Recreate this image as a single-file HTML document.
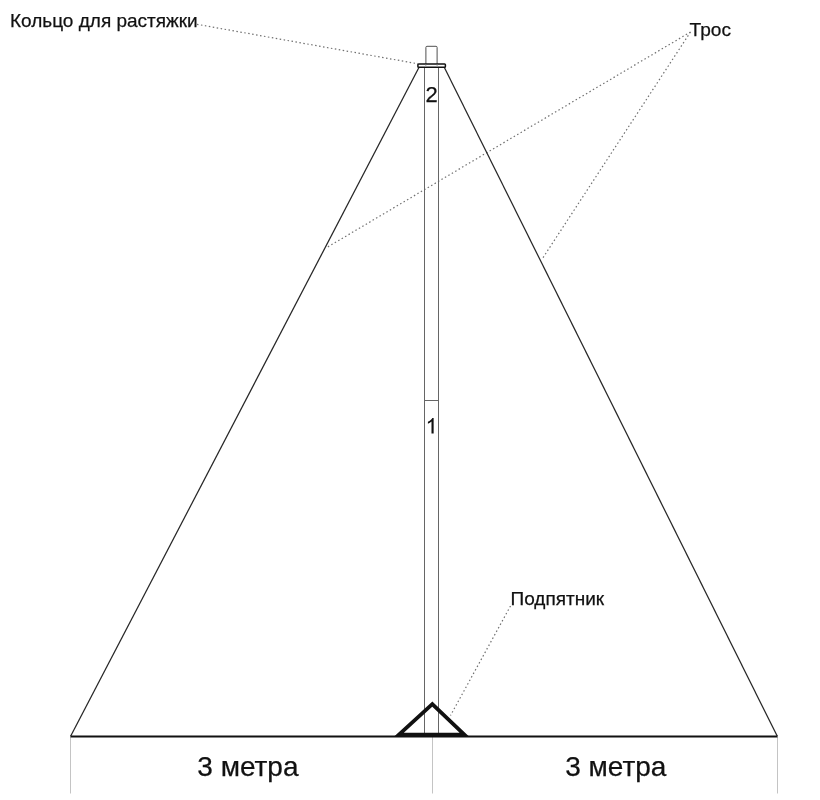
<!DOCTYPE html>
<html><head><meta charset="utf-8">
<style>
html,body{margin:0;padding:0;background:#fff;width:820px;height:800px;overflow:hidden}
svg{display:block;will-change:transform}
text{font-family:"Liberation Sans",sans-serif;fill:#111;stroke:#111;stroke-width:0.25}
</style></head>
<body>
<svg width="820" height="800" viewBox="0 0 820 800" xmlns="http://www.w3.org/2000/svg">
<g stroke="#c4c4c4" stroke-width="1" fill="none">
<line x1="70.5" y1="737" x2="70.5" y2="793.5"/>
<line x1="432.5" y1="737" x2="432.5" y2="793.5"/>
<line x1="777.5" y1="737" x2="777.5" y2="793.5"/>
</g>
<g stroke="#707070" stroke-width="1.2" stroke-dasharray="1.5 2.5" fill="none">
<line x1="197" y1="24.3" x2="418" y2="63.8"/>
<line x1="690.5" y1="32" x2="326.3" y2="247.8"/>
<line x1="690.5" y1="32" x2="542.6" y2="258.3"/>
<line x1="510.5" y1="606" x2="450.5" y2="715.5"/>
</g>
<g stroke="#666" stroke-width="1" fill="none">
<path stroke="#505050" d="M425.9 66 V47.4 Q425.9 46.3 427 46.3 H436 Q437.1 46.3 437.1 47.4 V66"/>
<line x1="424.5" y1="67" x2="424.5" y2="736"/>
<line x1="438.5" y1="67" x2="438.5" y2="736"/>
<line x1="424.5" y1="400.5" x2="438.5" y2="400.5"/>
</g>
<g stroke="#262626" stroke-width="1.25" fill="none">
<line x1="418.8" y1="67.8" x2="70.6" y2="736.3"/>
<line x1="444.5" y1="67.8" x2="777.3" y2="736.3"/>
</g>
<rect x="417.9" y="64.0" width="27.5" height="3.3" rx="0.8" fill="#fff" stroke="#111" stroke-width="1.5"/>
<line x1="425.8" y1="64.5" x2="425.8" y2="67" stroke="#999" stroke-width="0.8"/>
<line x1="437.1" y1="64.5" x2="437.1" y2="67" stroke="#999" stroke-width="0.8"/>
<line x1="70.5" y1="736.5" x2="777.5" y2="736.5" stroke="#111" stroke-width="2"/>
<polygon points="432.3,704.2 399,734.6 464.3,734.6" fill="none" stroke="#111" stroke-width="3.8" stroke-linejoin="miter"/>
<text x="10" y="27.2" font-size="19">Кольцо для растяжки</text>
<text x="689.6" y="36.1" font-size="19.1">Трос</text>
<text x="510.5" y="605" font-size="19">Подпятник</text>
<text x="197.3" y="776.4" font-size="28">3 метра</text>
<text x="565.2" y="776.4" font-size="28">3 метра</text>
<text x="425.5" y="102.1" font-size="22">2</text>
<path transform="translate(425.6 433.4) scale(0.01044 -0.01044)" fill="#111" d="M770 0 L565 0 L565 1130 Q518 1085 412 1023 Q306 961 222 930 L222 1104 Q373 1175 486 1276 Q599 1377 646 1472 L770 1472 Z"/>
</svg>
</body></html>
